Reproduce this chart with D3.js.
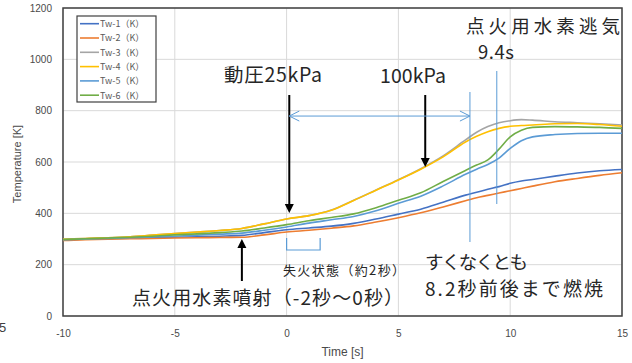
<!DOCTYPE html>
<html>
<head>
<meta charset="utf-8">
<script src="https://cdn.jsdelivr.net/npm/d3@7"></script>
<style>
  html, body { margin: 0; padding: 0; background: #fff; }
  svg { display: block; }
  .tick text { font-family: "Liberation Sans", Arial, sans-serif; fill: #4a4a4a; }
  .jp { font-family: "Noto Sans CJK JP", sans-serif; fill: #262626; }
</style>
</head>
<body>
<svg id="chart" width="632" height="363"></svg>
<script>
// Time axis samples [s]
const times = [-10, -9, -8, -7, -6, -5, -4, -3, -2, -1, 0, 1, 2, 3, 4, 5, 6, 7, 8,
               8.5, 9, 9.5, 10, 10.5, 11, 12, 13, 14, 15];

// Wall temperatures [K]
const tw1 = [297, 299, 301, 303, 305, 307, 309, 311, 314, 325, 336, 343, 350, 361, 378, 397, 416, 443, 471,
             482, 494, 504, 517, 526, 532, 545, 557, 566, 571];
const tw2 = [294, 297, 299, 301, 302, 304, 305, 306, 307, 316, 327, 334, 342, 351, 366, 383, 402, 425, 449,
             461, 470, 479, 488, 497, 506, 523, 536, 548, 558];
const tw3 = [299, 302, 305, 309, 315, 321, 327, 333, 341, 359, 378, 391, 413, 451, 491, 531, 574, 624, 686,
             716, 738, 753, 761, 765, 763, 757, 753, 749, 744];
const tw4 = [299, 302, 305, 309, 315, 321, 327, 333, 341, 359, 378, 391, 412, 450, 490, 530, 572, 620, 678,
             700, 718, 731, 739, 742, 744, 749, 750, 746, 739];
const tw5 = [297, 300, 302, 305, 308, 311, 315, 319, 323, 334, 347, 362, 375, 388, 410, 439, 467, 507, 552,
             572, 590, 615, 653, 683, 698, 707, 711, 712, 712];
const tw6 = [298, 301, 304, 307, 311, 316, 320, 325, 331, 343, 356, 371, 384, 398, 422, 451, 480, 524, 567,
             588, 608, 650, 698, 724, 735, 738, 737, 735, 731];

const seriesNames = ["Tw-1（K）", "Tw-2（K）", "Tw-3（K）", "Tw-4（K）", "Tw-5（K）", "Tw-6（K）"];
const seriesValues = [tw1, tw2, tw3, tw4, tw5, tw6];
const seriesColors = ["#4472C4", "#ED7D31", "#A5A5A5", "#FFC000", "#5B9BD5", "#70AD47"];

const xTicks = [-10, -5, 0, 5, 10, 15];
const yTicks = [0, 200, 400, 600, 800, 1000, 1200];

const svg = d3.select("#chart");
const plot = { left: 63, right: 622, top: 8, bottom: 316 };

const x = d3.scaleLinear().domain([-10, 15]).range([plot.left, plot.right]);
const y = d3.scaleLinear().domain([0, 1200]).range([plot.bottom, plot.top]);

// grid
svg.append("g").selectAll("line").data(yTicks).join("line")
  .attr("x1", plot.left).attr("x2", plot.right)
  .attr("y1", d => y(d)).attr("y2", d => y(d))
  .attr("stroke", "#d9d9d9").attr("stroke-width", 1);
svg.append("g").selectAll("line").data(xTicks).join("line")
  .attr("x1", d => x(d)).attr("x2", d => x(d))
  .attr("y1", plot.top).attr("y2", plot.bottom)
  .attr("stroke", "#d9d9d9").attr("stroke-width", 1);

// axes (labels only, plain hyphen for negatives)
const xAxis = svg.append("g").attr("transform", `translate(0,${plot.bottom})`)
  .call(d3.axisBottom(x).tickValues(xTicks).tickSize(0).tickPadding(14).tickFormat(d => String(d)));
xAxis.select(".domain").remove();
xAxis.selectAll("text").attr("font-size", 10);

const yAxis = svg.append("g").attr("transform", `translate(${plot.left},0)`)
  .call(d3.axisLeft(y).tickValues(yTicks).tickSize(0).tickPadding(11).tickFormat(d => String(d)));
yAxis.select(".domain").remove();
yAxis.selectAll("text").attr("font-size", 10);

// plot frame
svg.append("rect")
  .attr("x", plot.left).attr("y", plot.top)
  .attr("width", plot.right - plot.left).attr("height", plot.bottom - plot.top)
  .attr("fill", "none").attr("stroke", "#404040").attr("stroke-width", 1.5);

// axis titles
svg.append("text")
  .attr("transform", `translate(21,${(plot.top + plot.bottom) / 2 + 2}) rotate(-90)`)
  .attr("text-anchor", "middle")
  .attr("font-family", "Liberation Sans, Arial, sans-serif")
  .attr("font-size", 11).attr("fill", "#4a4a4a")
  .text("Temperature [K]");
svg.append("text")
  .attr("x", (plot.left + plot.right) / 2).attr("y", 356)
  .attr("text-anchor", "middle")
  .attr("font-family", "Liberation Sans, Arial, sans-serif")
  .attr("font-size", 12).attr("fill", "#4a4a4a")
  .text("Time [s]");

svg.append("text")
  .attr("x", -1).attr("y", 332)
  .attr("font-family", "Liberation Sans, Arial, sans-serif")
  .attr("font-size", 13).attr("fill", "#404040")
  .text("5");

// temperature curves
const line = d3.line()
  .x((d, i) => x(times[i]))
  .y(d => y(d))
  .curve(d3.curveMonotoneX);

svg.append("g").selectAll("path").data(seriesValues).join("path")
  .attr("d", d => line(d))
  .attr("fill", "none")
  .attr("stroke", (d, i) => seriesColors[i])
  .attr("stroke-width", 1.6)
  .attr("stroke-linejoin", "round");

// legend
const lg = svg.append("g");
lg.append("rect")
  .attr("x", 77).attr("y", 16).attr("width", 79).attr("height", 86)
  .attr("fill", "#fff").attr("stroke", "#404040").attr("stroke-width", 1.2);
const items = lg.selectAll("g.item").data(seriesNames).join("g")
  .attr("transform", (d, i) => `translate(0,${23.7 + i * 14.3})`);
items.append("line")
  .attr("x1", 80).attr("x2", 99).attr("y1", 0).attr("y2", 0)
  .attr("stroke", (d, i) => seriesColors[i]).attr("stroke-width", 1.6);
items.append("text")
  .attr("x", 100).attr("y", 3.3)
  .attr("font-family", "Noto Sans CJK JP, sans-serif")
  .attr("font-size", 9).attr("fill", "#595959")
  .text(d => d);

// annotations
const black = "#000", blue = "#5B9BD5";

function downArrow(t, y0, y1, color) {
  svg.append("line").attr("x1", x(t)).attr("x2", x(t)).attr("y1", y0).attr("y2", y1 - 7)
    .attr("stroke", color).attr("stroke-width", 2);
  svg.append("path")
    .attr("d", `M${x(t) - 4.5},${y1 - 9} L${x(t) + 4.5},${y1 - 9} L${x(t)},${y1} Z`)
    .attr("fill", color);
}
function upArrow(t, y0, y1, color) {
  svg.append("line").attr("x1", x(t)).attr("x2", x(t)).attr("y1", y0).attr("y2", y1 + 7)
    .attr("stroke", color).attr("stroke-width", 2);
  svg.append("path")
    .attr("d", `M${x(t) - 4.5},${y1 + 9} L${x(t) + 4.5},${y1 + 9} L${x(t)},${y1} Z`)
    .attr("fill", color);
}

downArrow(0.12, 95, 213, black);
downArrow(6.2, 95, 167, black);
upArrow(-2, 281, 239, black);

// span arrow between 0 s and 8.2 s
const ya = y(779);
svg.append("line").attr("x1", x(0.12)).attr("x2", x(8.2)).attr("y1", ya).attr("y2", ya)
  .attr("stroke", blue).attr("stroke-width", 1);
svg.append("path")
  .attr("d", `M${x(0.12) + 10},${ya - 5} L${x(0.12)},${ya} L${x(0.12) + 10},${ya + 5}`)
  .attr("fill", "none").attr("stroke", blue).attr("stroke-width", 1);
svg.append("path")
  .attr("d", `M${x(8.2) - 10},${ya - 5} L${x(8.2)},${ya} L${x(8.2) - 10},${ya + 5}`)
  .attr("fill", "none").attr("stroke", blue).attr("stroke-width", 1);

// marker lines at 8.2 s and 9.4 s
svg.append("line").attr("x1", x(8.2)).attr("x2", x(8.2)).attr("y1", 92).attr("y2", 242)
  .attr("stroke", blue).attr("stroke-width", 1);
svg.append("line").attr("x1", x(9.4)).attr("x2", x(9.4)).attr("y1", 71).attr("y2", 204)
  .attr("stroke", blue).attr("stroke-width", 1);

// misfire bracket 0 s – 1.5 s
svg.append("path")
  .attr("d", `M${x(0)},238 L${x(0)},250 L${x(1.5)},250 L${x(1.5)},238`)
  .attr("fill", "none").attr("stroke", blue).attr("stroke-width", 1.2);

function label(txt, xp, yp, size, len) {
  const t = svg.append("text").attr("class", "jp")
    .attr("x", xp).attr("y", yp).attr("font-size", size).text(txt);
  if (len) t.attr("textLength", len).attr("lengthAdjust", "spacing");
  return t;
}

label("動圧25kPa", 224, 82, 19.5, 98);
label("100kPa", 380, 83, 19.5, 66);
label("点火用水素逃気", 466, 33, 18.5, 154);
label("9.4s", 478, 59, 18.5, 36);
label("失火状態（約2秒）", 283, 275, 13, 122);
label("点火用水素噴射（-2秒～0秒）", 132, 305, 19, 271);
label("すくなくとも", 425, 269, 18.5, 103);
label("8.2秒前後まで燃焼", 425, 296, 19, 178);
</script>
</body>
</html>
